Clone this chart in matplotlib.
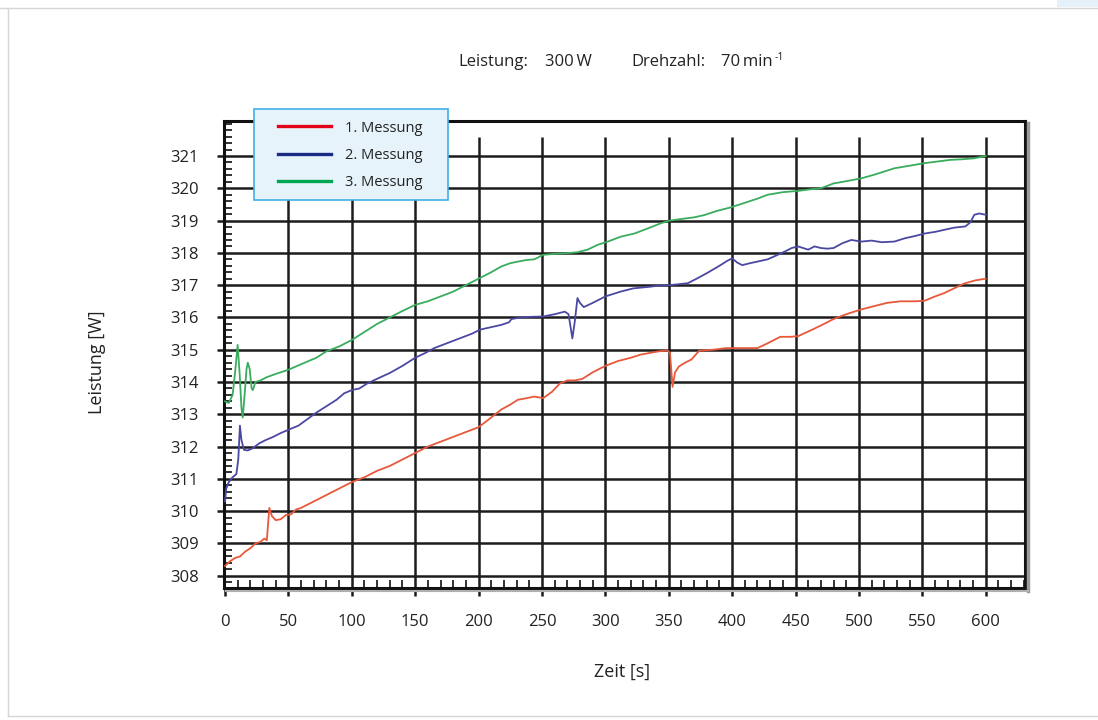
import matplotlib
matplotlib.use("Agg")
import matplotlib.pyplot as plt
from matplotlib.lines import Line2D
from matplotlib.patches import Rectangle
from matplotlib.ticker import FixedLocator, MultipleLocator

plt.rcParams["font.family"] = ["Open Sans", "DejaVu Sans"]

# 1. Messung
TIME_1 = [0, 4, 8, 12, 16, 20, 24, 28, 31, 33, 34, 35, 37, 40, 44, 48, 52, 56, 60, 65,
          70, 75, 80, 85, 90, 95, 100, 110, 120, 130, 140, 150, 160, 170, 180, 190, 200,
          210, 218, 225, 231, 238, 244, 251, 258, 264, 270, 276, 282, 290, 300, 310, 320,
          328, 335, 342, 349, 351, 353, 355, 358, 363, 368, 374, 385, 395, 402, 412, 420,
          428, 438, 446, 452, 462, 470, 480, 490, 502, 512, 522, 533, 545, 552, 560, 567,
          575, 583, 592, 600]
POWER_1 = [308.3, 308.45, 308.55, 308.6, 308.75, 308.85, 309.0, 309.05, 309.15, 309.1,
           309.6, 310.1, 309.85, 309.72, 309.75, 309.88, 309.9, 310.05, 310.1, 310.2,
           310.3, 310.4, 310.5, 310.6, 310.7, 310.8, 310.9, 311.05, 311.25, 311.4, 311.6,
           311.8, 312.0, 312.15, 312.3, 312.45, 312.6, 312.9, 313.15, 313.3, 313.45, 313.5,
           313.55, 313.5, 313.7, 313.95, 314.05, 314.05, 314.1, 314.3, 314.5, 314.65,
           314.75, 314.85, 314.9, 314.95, 314.98, 314.9, 313.85, 314.3, 314.48, 314.6,
           314.7, 314.97, 315.0, 315.05, 315.05, 315.05, 315.05, 315.2, 315.4, 315.4,
           315.42, 315.6, 315.75, 315.95, 316.1, 316.25, 316.35, 316.45, 316.5, 316.5,
           316.52, 316.65, 316.75, 316.9, 317.05, 317.15, 317.2]

# 2. Messung
TIME_2 = [0, 1, 3, 6, 9, 10.5, 11.8, 13, 15, 18, 22, 27, 32, 38, 44, 50, 58, 65, 72, 80,
          88, 94, 100, 106, 112, 120, 130, 140, 150, 158, 165, 175, 185, 195, 201, 210,
          218, 224, 226, 233, 242, 251, 260, 268, 271, 273, 274, 276, 278, 280, 283, 290,
          300, 312, 322, 335, 345, 351, 358, 365, 372, 380, 390, 396, 400, 404, 408, 414,
          420, 428, 436, 442, 447, 452, 456, 460, 465, 470, 475, 480, 487, 494, 502, 510,
          518, 528, 536, 544, 552, 560, 568, 575, 584, 588, 591, 595, 600]
POWER_2 = [310.3, 310.7, 310.9, 311.05, 311.15, 311.6, 312.65, 312.2, 311.9, 311.88,
           311.95, 312.1, 312.2, 312.3, 312.42, 312.52, 312.65, 312.85, 313.05, 313.25,
           313.45, 313.65, 313.75, 313.8, 313.95, 314.1, 314.28, 314.5, 314.75, 314.9,
           315.05, 315.2, 315.35, 315.5, 315.62, 315.7, 315.77, 315.85, 315.95, 316.0,
           316.02, 316.03, 316.1, 316.18, 316.1, 315.6, 315.35, 315.9, 316.6, 316.45,
           316.32, 316.45, 316.65, 316.8, 316.9, 316.95, 317.0, 317.0, 317.03, 317.06,
           317.2, 317.37, 317.6, 317.75, 317.83, 317.7, 317.62, 317.68, 317.73, 317.8,
           317.94, 318.05, 318.15, 318.2, 318.15, 318.1, 318.2, 318.15, 318.13, 318.15,
           318.3, 318.4, 318.35, 318.38, 318.33, 318.35, 318.45, 318.52, 318.6, 318.65,
           318.72, 318.78, 318.82, 318.95, 319.18, 319.22, 319.18]

# 3. Messung
TIME_3 = [0, 3, 6, 8, 10, 11.5, 13, 14, 15.5, 17, 18, 19.5, 21, 22, 24, 28, 33, 40, 50,
          60, 72, 80, 90, 100, 110, 120, 130, 140, 150, 160, 170, 180, 190, 201, 210, 218,
          225, 231, 238, 244, 251, 260, 270, 278, 286, 294, 302, 312, 323, 335, 344, 351,
          360, 370, 378, 388, 398, 410, 420, 428, 440, 452, 462, 470, 480, 490, 502, 512,
          520, 528, 540, 552, 562, 572, 582, 591, 600]
POWER_3 = [313.4, 313.35, 313.6, 314.3, 315.15, 314.3, 313.2, 312.9, 313.6, 314.4, 314.6,
           314.4, 313.8, 313.75, 314.0, 314.05, 314.15, 314.25, 314.38, 314.55, 314.75,
           314.95, 315.1, 315.3, 315.55, 315.8, 316.0, 316.2, 316.39, 316.5, 316.65, 316.8,
           317.0, 317.22, 317.4, 317.58, 317.68, 317.73, 317.78, 317.8, 317.94, 317.97,
           317.99, 318.02, 318.1, 318.25, 318.35, 318.5, 318.6, 318.78, 318.92, 319.0,
           319.05, 319.1, 319.17, 319.3, 319.4, 319.55, 319.68, 319.8, 319.88, 319.92,
           319.97, 320.0, 320.15, 320.22, 320.31, 320.42, 320.52, 320.62, 320.7, 320.78,
           320.83, 320.88, 320.9, 320.93, 321.0]

LABELS = ["1. Messung", "2. Messung", "3. Messung"]
LINE_COLORS = ["#e8583a", "#4b48a4", "#3aac5e"]
LEGEND_COLORS = ["#e2001a", "#1b2a82", "#00a651"]
X_TICKS = list(range(0, 601, 50))
Y_TICKS = list(range(308, 322))

W, H = 1098, 720


def fx(px):
    return px / W


def fy(py):
    return 1 - py / H


def draw_page(fig):
    border = "#d6d6d6"
    fig.add_artist(Line2D([0, 1], [fy(7.5)] * 2, transform=fig.transFigure, color=border, lw=1))
    fig.add_artist(Line2D([fx(7.5)] * 2, [fy(7.5), fy(716)], transform=fig.transFigure, color=border, lw=1))
    fig.add_artist(Line2D([fx(7.5), 1], [fy(716)] * 2, transform=fig.transFigure, color=border, lw=1))
    fig.add_artist(Rectangle((fx(1057), fy(7)), fx(41), 7 / H, transform=fig.transFigure,
                             facecolor="#e6f0f8", edgecolor="none"))


def main() -> None:
    fig = plt.figure(figsize=(W / 100, H / 100), dpi=100)
    draw_page(fig)

    left, right, top, bottom = 223.7, 1025, 120.5, 588
    ax = fig.add_axes([fx(left), fy(bottom), (right - left) / W, (bottom - top) / H])
    x_lo, x_hi = -1, 631
    y_lo, y_hi = 307.62, 322.1
    ax.set_xlim(x_lo, x_hi)
    ax.set_ylim(y_lo, y_hi)

    grid_kw = dict(color="#1c1c1c", lw=1.8, zorder=1)
    ax.hlines(Y_TICKS, x_lo, x_hi, **grid_kw)
    ax.vlines(X_TICKS[1:], y_lo, 321.6, **grid_kw)

    for t, p, c in zip([TIME_1, TIME_2, TIME_3], [POWER_1, POWER_2, POWER_3], LINE_COLORS):
        ax.plot(t, p, color=c, lw=1.3, zorder=3)

    ax.xaxis.set_major_locator(FixedLocator(X_TICKS))
    ax.yaxis.set_major_locator(FixedLocator(Y_TICKS))
    ax.xaxis.set_minor_locator(MultipleLocator(10))
    ax.yaxis.set_minor_locator(MultipleLocator(0.2))
    ax.tick_params(axis="x", which="major", direction="out", length=6, width=1.8,
                   color="#1c1c1c", labelsize=12, labelcolor="#222222", pad=12.5)
    ax.tick_params(axis="y", which="major", direction="out", length=5, width=1.8,
                   color="#1c1c1c", labelsize=12, labelcolor="#222222", pad=13)
    ax.tick_params(which="minor", direction="in", length=6, width=1.4, color="#333333")

    for side in ax.spines.values():
        side.set_linewidth(2.2)
        side.set_color("#111111")
    fig.add_artist(Line2D([fx(1027.5)] * 2, [fy(123), fy(591)], transform=fig.transFigure,
                          color="#9a9a9a", lw=2.5))
    fig.add_artist(Line2D([fx(226), fx(1028)], [fy(590.5)] * 2, transform=fig.transFigure,
                          color="#b0b0b0", lw=1.5))

    fig.text(fx(97), fy(362), "Leistung [W]", rotation=90, ha="center", va="center",
             fontsize=13, color="#222222")
    fig.text(fx(622), fy(672), "Zeit [s]", ha="center", va="center", fontsize=13, color="#222222")

    title_kw = dict(ha="left", va="center", fontsize=12, color="#222222")
    fig.text(fx(458), fy(62), "Leistung:", **title_kw)
    fig.text(fx(545), fy(62), "300\u2009W", **title_kw)
    fig.text(fx(631), fy(62), "Drehzahl:", **title_kw)
    fig.text(fx(721), fy(62), "70\u2009min", **title_kw)
    fig.text(fx(775), fy(57), "-1", ha="left", va="center", fontsize=7.5, color="#222222")

    fig.add_artist(Rectangle((fx(254), fy(200)), 194 / W, 91 / H, transform=fig.transFigure,
                             facecolor="#e6f3fb", edgecolor="#3db2e6", lw=1.2, zorder=5))
    handles = [Line2D([], [], color=c, lw=2.4) for c in LEGEND_COLORS]
    leg = fig.legend(handles, LABELS, loc="upper left", bbox_to_anchor=(fx(278), fy(120.5)),
                     frameon=False, fontsize=10.5, handlelength=3.6, handletextpad=1.0,
                     labelspacing=0.85, borderpad=0, borderaxespad=0)
    leg.set_zorder(6)
    for txt in leg.get_texts():
        txt.set_color("#222222")

    fig.savefig("out.png", dpi=100)


if __name__ == "__main__":
    main()
